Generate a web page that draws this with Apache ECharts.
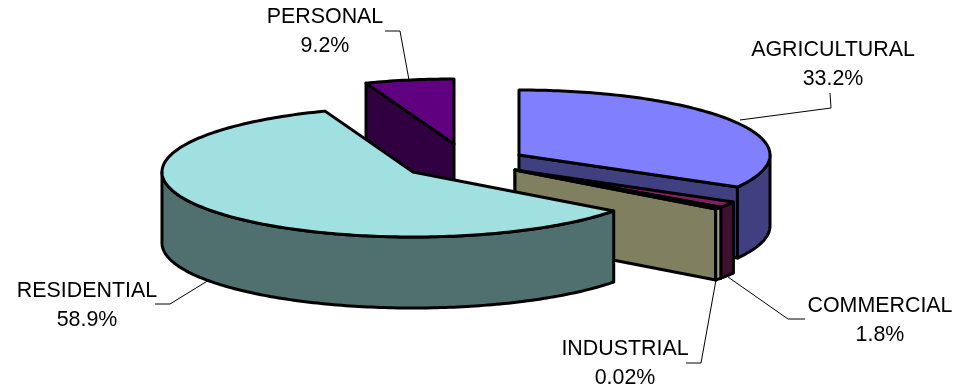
<!DOCTYPE html>
<html><head><meta charset="utf-8">
<style>html,body{margin:0;padding:0;background:#fff}#c{width:971px;height:388px}</style>
<script src="https://cdn.jsdelivr.net/npm/echarts@6/dist/echarts.min.js"></script>
</head><body><div id="c"></div>
<script>
// Data: order is the clockwise order round the pie, starting at 12 o'clock.
const categories = ['AGRICULTURAL', 'COMMERCIAL', 'INDUSTRIAL', 'RESIDENTIAL', 'PERSONAL'];
// Percentages as printed on the labels (the printed figures total 103.02).
const printedValues = ['33.2', '1.8', '0.02', '58.9', '9.2'];
// Share of the circle each slice occupies.
const drawnShares = [33.2, 1.5, 0.55, 59.05, 5.7];

// Styles
const topColors  = ['#8080FF', '#802060', '#C0C0A0', '#A0E0E0', '#600080'];
const sideColors = ['#404080', '#401030', '#808060', '#507070', '#300040'];
const wallColors = ['#404080', '#401030', '#A0A080', '#507070', '#300040'];

// Layout: pie centre of each exploded slice, shared radii and thickness.
const layout = {
  rx: 251, ry: 65, depth: 71,
  centers: [[519, 155], [515, 170], [515, 170], [413, 172], [454, 144]],
  labelAt: [[833, 50], [880, 306], [625, 349], [87, 291], [325, 17]],
  lineGap: 29,
  leaders: [
    [[830, 93], [831, 108], [740, 120]],
    [[805, 319], [788, 319], [728, 277]],
    [[686, 363], [701, 363], [716, 280]],
    [[155, 304], [170, 304], [209, 280]],
    [[385, 31], [400, 31], [409, 80]]
  ]
};
const drawOrder = [4, 0, 1, 2, 3];

const startAngles = [];
drawnShares.reduce((sum, s, i) => { startAngles[i] = sum * 3.6; return sum + s; }, 0);
const endAngle = i => i === categories.length - 1 ? 360 : startAngles[i + 1];

function rim(c, t, dy) {
  const r = t * Math.PI / 180;
  return [c[0] + layout.rx * Math.sin(r), c[1] - layout.ry * Math.cos(r) + (dy || 0)];
}
function arc(c, a, b, dy) {
  const pts = [], n = Math.max(1, Math.ceil(Math.abs(b - a)));
  for (let k = 0; k <= n; k++) pts.push(rim(c, a + (b - a) * k / n, dy));
  return pts;
}
const stroke = { stroke: '#000', lineWidth: 3, lineJoin: 'round' };
const poly = (points, fill, z2) => ({
  type: 'polygon', z2, shape: { points },
  style: Object.assign({ fill }, stroke)
});

function renderSlice(params, api) {
  const i = api.value(0);
  const c = layout.centers[i], a = startAngles[i], b = endAngle(i), d = layout.depth;
  const kids = [];
  const face = t => {
    const p = rim(c, t);
    return [c, p, [p[0], p[1] + d], [c[0], c[1] + d]];
  };
  // Cut faces that turn towards the viewer.
  if (b > 0 && b < 180) kids.push(poly(face(b), sideColors[i]));
  if (a > 180 && a < 360) kids.push(poly(face(a), sideColors[i]));
  // Outer wall: only the front half of the rim is seen.
  const wa = Math.max(a, 90), wb = Math.min(b, 270);
  if (wb > wa) {
    kids.push(poly(arc(c, wa, wb).concat(arc(c, wb, wa, d)), wallColors[i]));
  }
  // Top.
  kids.push(poly([c].concat(arc(c, a, b)), topColors[i]));
  return { type: 'group', children: kids };
}
function renderLabel(params, api) {
  const i = api.value(0), p = layout.labelAt[i];
  const text = (t, y) => ({
    type: 'text',
    style: { text: t, x: p[0], y, align: 'center', verticalAlign: 'middle',
      font: '21.4px "Liberation Sans", Arial, sans-serif', fill: '#000' }
  });
  return { type: 'group', children: [
    { type: 'polyline', shape: { points: layout.leaders[i] },
      style: { stroke: '#000', lineWidth: 1, fill: null } },
    text(categories[i], p[1]),
    text(printedValues[i] + '%', p[1] + layout.lineGap)
  ]};
}

const chart = echarts.init(document.getElementById('c'), null, { renderer: 'canvas' });
chart.setOption({
  animation: false,
  backgroundColor: '#fff',
  series: [
    { type: 'custom', coordinateSystem: 'none', renderItem: renderLabel, silent: true,
      z: 1, data: categories.map((_, i) => [i]) },
    { type: 'custom', coordinateSystem: 'none', renderItem: renderSlice, silent: true,
      z: 2, data: drawOrder.map(i => [i]) }
  ]
});
</script></body></html>
